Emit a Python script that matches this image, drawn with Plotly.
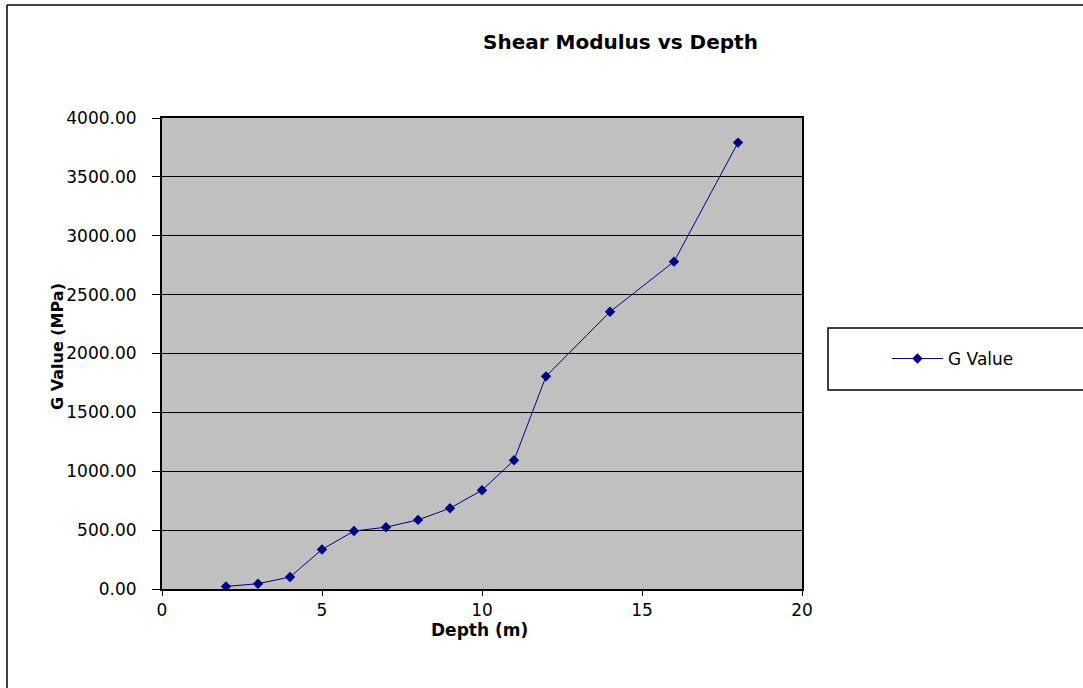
import plotly.graph_objects as go

# Shear modulus G (MPa) measured at each depth (m)
depth_m = [2, 3, 4, 5, 6, 7, 8, 9, 10, 11, 12, 14, 16, 18]
g_value_mpa = [22, 45, 102, 336, 492, 525, 587, 686, 839, 1093, 1806, 2354, 2780, 3791]

series_name = "G Value"
chart_title = "Shear Modulus vs Depth"
x_title = "Depth (m)"
y_title = "G Value (MPa)"

W, H = 1083, 688
L, R, T, B = 162, 281, 118, 99
plot_w = W - L - R
plot_h = H - T - B


def px_x(p):
    return (p - L) / plot_w


def px_y(p):
    return (H - B - p) / plot_h


font_family = "DejaVu Sans, Arial, sans-serif"
navy = "#000080"

fig = go.Figure()
fig.add_trace(go.Scatter(
    x=depth_m, y=g_value_mpa, name=series_name, mode="lines+markers",
    line=dict(color=navy, width=1),
    marker=dict(symbol="diamond", size=8, color=navy),
))

fig.update_layout(
    width=W, height=H,
    margin=dict(l=L, r=R, t=T, b=B),
    paper_bgcolor="white",
    plot_bgcolor="#C0C0C0",
    font=dict(family=font_family, color="black"),
    showlegend=True,
    legend=dict(
        x=px_x(887), y=px_y(359), xanchor="left", yanchor="middle",
        bgcolor="rgba(0,0,0,0)", borderwidth=0, itemwidth=51,
        font=dict(size=17, family=font_family),
    ),
    xaxis=dict(
        range=[0, 20], tick0=0, dtick=5, showgrid=False, zeroline=False,
        showline=True, linecolor="black", linewidth=2, mirror=True,
        ticks="outside", ticklen=5, tickcolor="black", tickwidth=1,
        tickfont=dict(size=17), ticklabelstandoff=0,
    ),
    yaxis=dict(
        range=[0, 4000], tick0=0, dtick=500, tickformat=".2f",
        showgrid=True, gridcolor="black", gridwidth=1, zeroline=False,
        showline=True, linecolor="black", linewidth=2, mirror=True,
        ticks="outside", ticklen=8, tickcolor="black", tickwidth=1,
        tickfont=dict(size=17), ticklabelstandoff=12,
    ),
    annotations=[
        dict(text=chart_title, xref="paper", yref="paper",
             x=px_x(620), y=px_y(42), xanchor="center", yanchor="middle",
             showarrow=False, font=dict(size=20, weight="bold")),
        dict(text=x_title, xref="paper", yref="paper",
             x=px_x(479), y=px_y(630), xanchor="center", yanchor="middle",
             showarrow=False, font=dict(size=17, weight="bold")),
        dict(text=y_title, xref="paper", yref="paper", textangle=-90,
             x=px_x(57), y=px_y(347), xanchor="center", yanchor="middle",
             showarrow=False, font=dict(size=16, weight="bold")),
    ],
    shapes=[
        # chart frame (left and top edges)
        dict(type="line", xref="paper", yref="paper",
             x0=px_x(7), x1=px_x(7), y0=px_y(5), y1=px_y(700),
             line=dict(color="black", width=1.5)),
        dict(type="line", xref="paper", yref="paper",
             x0=px_x(7), x1=px_x(1100), y0=px_y(5), y1=px_y(5),
             line=dict(color="black", width=1.5)),
        # legend box
        dict(type="rect", xref="paper", yref="paper",
             x0=px_x(828), x1=px_x(1100), y0=px_y(390), y1=px_y(328),
             line=dict(color="black", width=1.5), fillcolor="rgba(0,0,0,0)"),
    ],
)

fig.write_html("out.html")
